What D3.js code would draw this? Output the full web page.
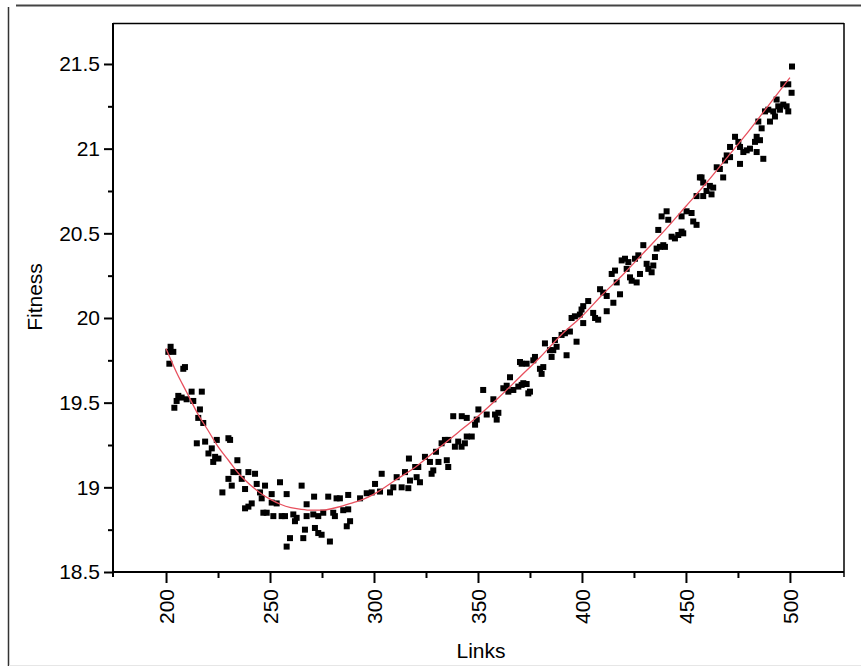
<!DOCTYPE html>
<html><head><meta charset="utf-8">
<script src="https://cdn.jsdelivr.net/npm/d3@7"></script>
<style>
html,body{margin:0;padding:0;background:#fff;}
svg{display:block;}
text{font-family:"Liberation Sans",Arial,sans-serif;fill:#000;}
</style></head><body>
<svg id="c" width="861" height="666"></svg>
<script>
// ---- data ----
const links = [
202.2,201.1,203.5,201.6,209.1,208.3,205.9,207.5,205.1,209.9,212.3,217.2,213.1,204,216.3,215.5,217.9,214.8,218.8,224.4,
230,230.8,222,220.4,223.6,225.2,222.7,234.3,232.4,234.8,239.6,242.8,230,236.4,231.6,238,243.6,247.6,227.1,254.8,
265.2,245.2,250.8,258,246,253.2,250.8,241.2,239.6,238,246.8,248.4,251.6,255.6,257.2,261.2,262.8,262,267.6,271.2,
278,282,283.6,287.6,266.8,266,259.6,258,271.6,273.2,274.8,278.8,267.6,270.8,273.2,275.6,280.4,281.2,285.2,287.6,
286.9,288.5,
293.3,296.5,300.5,298.9,303.7,302.9,307.7,310.9,309.3,313.3,314.9,317.3,316.5,320.5,322.1,321.3,316.8,319.8,324.5,326.9,
327.7,328.5,331,329.8,332.5,334.1,335.7,335,335.7,338.9,340.5,342.1,343.7,344.6,338.1,342.2,344.6,347,348.6,350.2,
349.4,352.5,354.2,357.4,358.2,359.8,359,362.2,365.4,363.8,367,371,370.2,374.2,373.4,
364.6,369.4,371.8,375,371,373.4,376.6,377.4,379.8,381.4,380.6,382.2,384.6,386.2,385.4,387.8,387,390.2,391.8,394.2,
392.6,397.4,395,396.6,399.8,400.6,403,399,400.6,405.4,406.3,407.8,408.7,410.2,411.9,411.9,414.3,415.9,416.7,418.3,
415.1,419.1,420.7,422.3,421.5,423.1,423.9,426.3,425.5,427.1,427.9,431.1,431.9,433.5,434.3,429.5,435.1,435.9,437.5,439.1,
439.9,436.7,438.3,440.7,441.5,443.1,444.7,446.3,447.9,448.7,447.9,450.3,452.7,453.5,455.1,456.7,455.1,
501,499.2,496.8,500.8,493.6,494.4,496.8,498.4,499.2,495.2,492,489.6,488,492.8,490.4,484.8,486.4,484,485.6,483.2,
473.6,475.2,471.2,476,477.6,479.2,480.8,484,487.2,469.6,471.2,468.8,476,464.8,466.3,467.9,457.5,458.3,461.5,463.1,
459.9,462.3,458.3
];
const fitness = [
19.83,19.80,19.80,19.73,19.71,19.70,19.54,19.53,19.51,19.52,19.565,19.565,19.51,19.47,19.46,19.41,19.38,19.26,19.27,19.28,
19.29,19.28,19.23,19.20,19.18,19.17,19.15,19.16,19.09,19.09,19.09,19.08,19.05,19.05,19.01,18.99,19.02,19.01,18.97,19.03,
19.01,18.97,18.96,18.96,18.935,18.905,18.91,18.905,18.886,18.876,18.85,18.85,18.83,18.83,18.83,18.84,18.82,18.80,18.90,18.945,
18.945,18.935,18.935,18.955,18.75,18.70,18.70,18.65,18.76,18.73,18.72,18.68,18.83,18.84,18.83,18.85,18.85,18.83,18.865,18.87,
18.77,18.80,
18.935,18.965,19.02,18.97,19.08,18.975,18.97,19.06,19.00,19.00,19.09,19.04,18.995,19.06,19.03,19.12,19.17,19.12,19.18,19.15,
19.08,19.10,19.15,19.21,19.26,19.28,19.28,19.16,19.12,19.24,19.27,19.24,19.26,19.30,19.42,19.42,19.41,19.30,19.37,19.46,
19.40,19.575,19.43,19.52,19.43,19.44,19.40,19.585,19.65,19.60,19.575,19.605,19.74,19.555,19.61,
19.565,19.595,19.615,19.565,19.73,19.73,19.75,19.77,19.70,19.71,19.67,19.85,19.81,19.81,19.77,19.83,19.87,19.90,19.91,19.92,
19.78,19.86,20.00,20.01,20.05,20.07,20.10,20.02,19.97,20.03,20.00,19.99,20.17,20.15,20.13,20.04,20.26,20.28,20.21,20.14,
20.09,20.34,20.35,20.33,20.29,20.24,20.22,20.21,20.35,20.37,20.26,20.32,20.29,20.27,20.31,20.43,20.36,20.41,20.42,20.43,
20.42,20.52,20.60,20.63,20.58,20.48,20.47,20.49,20.51,20.50,20.60,20.63,20.62,20.57,20.55,20.83,20.72,
21.485,21.38,21.38,21.33,21.29,21.25,21.26,21.25,21.22,21.23,21.22,21.23,21.22,21.19,21.16,21.16,21.12,21.07,21.05,21.04,
21.07,21.04,21.01,21.01,20.98,20.99,21.00,20.98,20.94,20.96,20.95,20.93,20.91,20.89,20.88,20.83,20.83,20.80,20.78,20.77,
20.75,20.73,20.72
];
// fitted curve (red line)
const fitLinks = [200,205,210,215,220,225,230,235,240,245,250,255,260,265,270,275,280,285,290,295,300,310,320,330,340,350,360,370,380,390,400,410,420,430,440,450,460,470,480,490,500];
const fitValues = [19.82,19.68,19.56,19.44,19.34,19.24,19.16,19.08,19.02,18.97,18.93,18.90,18.88,18.87,18.865,18.865,18.875,18.89,18.91,18.93,18.96,19.04,19.12,19.22,19.32,19.42,19.53,19.65,19.77,19.90,20.01,20.14,20.26,20.39,20.52,20.66,20.80,20.95,21.10,21.26,21.42];
const xMajor = [200,250,300,350,400,450,500];
const xMinor = [225,275,325,375,425,475];
const yMajor = [18.5,19,19.5,20,20.5,21,21.5];
const yMinor = [18.75,19.25,19.75,20.25,20.75,21.25];
const xTitle = "Links", yTitle = "Fitness";

// ---- layout ----
const L = 113, R = 844, T = 23, B = 572;
const x = d3.scaleLinear().domain([174.5, 526]).range([L, R]);
const y = d3.scaleLinear().domain([18.5, 21.742]).range([B, T]);
const svg = d3.select("#c");

// outer frame
svg.append("path").attr("d","M16,5.5H861").attr("stroke","#444").attr("stroke-width",2).attr("fill","none");
svg.append("path").attr("d","M8.5,7V666").attr("stroke","#333").attr("stroke-width",1.5).attr("fill","none");
svg.append("path").attr("d","M9,665.5H861").attr("stroke","#e6e6e6").attr("stroke-width",1).attr("fill","none");

// plot box
svg.append("path").attr("d",`M${L},${T+0.5}H${R}`).attr("stroke","#000").attr("stroke-width",1.5);
svg.append("path").attr("d",`M${R},${T}V${B+5}`).attr("stroke","#000").attr("stroke-width",1.5);
svg.append("path").attr("d",`M${L},${T}V${B+5}`).attr("stroke","#000").attr("stroke-width",2);
svg.append("path").attr("d",`M${L},${B}H${R}`).attr("stroke","#000").attr("stroke-width",2);

// axes
const gx = svg.append("g").attr("transform",`translate(0,${B})`);
gx.call(d3.axisBottom(x).tickValues(xMajor).tickSize(11).tickFormat(d3.format("d")));
gx.append("g").call(d3.axisBottom(x).tickValues(xMinor).tickSize(6).tickFormat(""));
gx.selectAll(".domain").remove();
gx.selectAll("line").attr("stroke","#000").attr("stroke-width",2);
gx.selectAll(".tick text")
  .attr("font-size",21).attr("font-family","'Liberation Sans',Arial,sans-serif")
  .attr("text-anchor","end").attr("y",0).attr("dy","0.35em")
  .attr("transform","translate(0,17) rotate(-90)");

const gy = svg.append("g").attr("transform",`translate(${L},0)`);
gy.call(d3.axisLeft(y).tickValues(yMajor).tickSize(9).tickPadding(4).tickFormat(d3.format("")));
gy.append("g").call(d3.axisLeft(y).tickValues(yMinor).tickSize(5).tickFormat(""));
gy.selectAll(".domain").remove();
gy.selectAll("line").attr("stroke","#000").attr("stroke-width",2);
gy.selectAll(".tick text").attr("font-size",21).attr("font-family","'Liberation Sans',Arial,sans-serif");

// titles
svg.append("text").attr("x",481).attr("y",658).attr("text-anchor","middle").attr("font-size",21).text(xTitle);
svg.append("text").attr("transform","translate(42,297) rotate(-90)").attr("text-anchor","middle").attr("font-size",21).text(yTitle);

// points
const pts = links.map((l,i)=>({l, f:fitness[i]}));
svg.append("g").selectAll("rect").data(pts).join("rect")
  .attr("x",d=>x(d.l)-3).attr("y",d=>y(d.f)-3).attr("width",6).attr("height",6).attr("fill","#000");

// fit line
const fit = fitLinks.map((l,i)=>({l, f:fitValues[i]}));
svg.append("path").datum(fit)
  .attr("d", d3.line().x(d=>x(d.l)).y(d=>y(d.f)).curve(d3.curveMonotoneX))
  .attr("fill","none").attr("stroke","#e8505e").attr("stroke-width",1.3);
</script>
</body></html>
